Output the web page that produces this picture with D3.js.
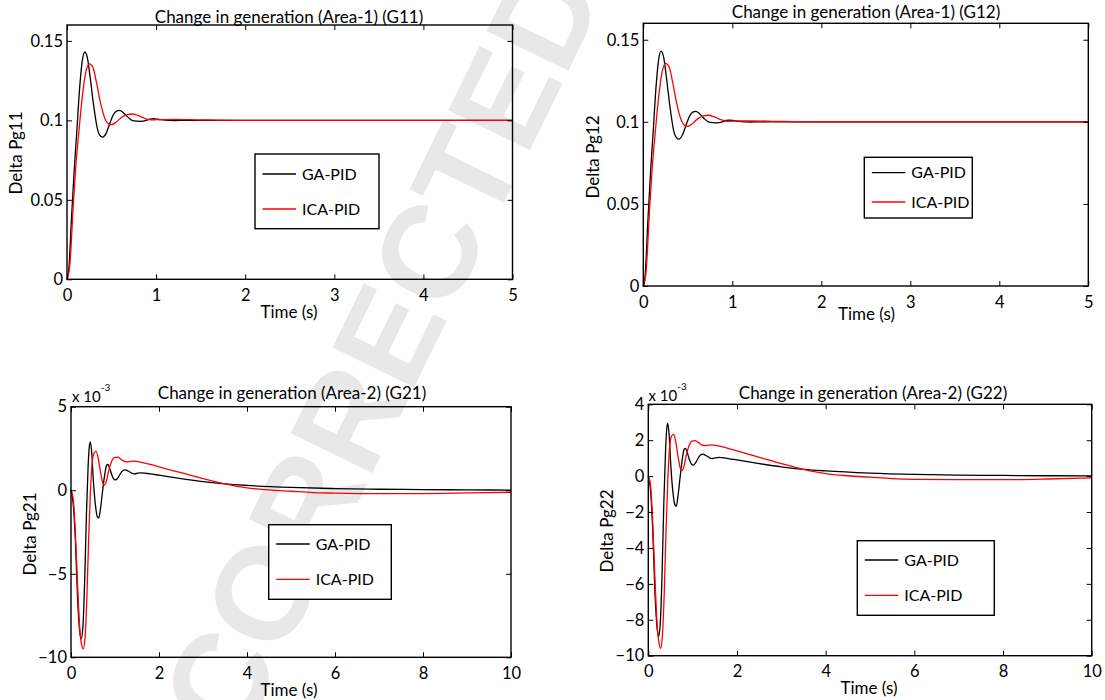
<!DOCTYPE html>
<html>
<head>
<meta charset="utf-8">
<script src="https://cdn.jsdelivr.net/npm/d3@7"></script>
<style>
  html, body { margin: 0; padding: 0; background: #fff; }
  svg { display: block; }
  text { font-family: Lato, "Open Sans", sans-serif; fill: #000; }
</style>
</head>
<body>
<svg id="chart" width="1105" height="700"></svg>
<script>
// ---- Area-1 responses (time in s, Delta Pg in p.u.) ----
const tG11Ga  = [0, 0.02, 0.05, 0.08, 0.11, 0.14, 0.17, 0.2, 0.23, 0.26, 0.3, 0.34, 0.37, 0.4, 0.44, 0.48, 0.52, 0.56, 0.59, 0.63, 0.68, 0.73, 0.78, 0.83, 0.88, 0.93, 0.97, 1.02, 1.1, 1.2, 1.35, 2, 5];
const g11Ga   = [0, 0.006, 0.038, 0.068, 0.093, 0.119, 0.137, 0.143, 0.139, 0.127, 0.109, 0.095, 0.0905, 0.0895, 0.092, 0.098, 0.1035, 0.106, 0.1063, 0.105, 0.1022, 0.1, 0.0995, 0.0994, 0.0998, 0.1008, 0.101, 0.1007, 0.1001, 0.0999, 0.1, 0.1, 0.1];
const tG11Ica = [0, 0.03, 0.07, 0.1, 0.135, 0.17, 0.21, 0.25, 0.29, 0.33, 0.38, 0.43, 0.47, 0.5, 0.55, 0.61, 0.67, 0.73, 0.8, 0.87, 0.95, 1.05, 1.2, 1.5, 2, 5];
const g11Ica  = [0, 0.008, 0.046, 0.072, 0.094, 0.114, 0.13, 0.1356, 0.1335, 0.124, 0.11, 0.1005, 0.0976, 0.0973, 0.0988, 0.1018, 0.1035, 0.104, 0.103, 0.1013, 0.1003, 0.1005, 0.1006, 0.1003, 0.1, 0.1];
const g12Ga   = [0, 0.006, 0.038, 0.068, 0.093, 0.119, 0.137, 0.143, 0.139, 0.127, 0.109, 0.095, 0.0905, 0.0895, 0.092, 0.098, 0.1035, 0.106, 0.1063, 0.105, 0.1022, 0.1, 0.0995, 0.0994, 0.0998, 0.1008, 0.101, 0.1007, 0.1001, 0.0999, 0.1, 0.1, 0.1];
const g12Ica  = [0, 0.008, 0.046, 0.072, 0.094, 0.114, 0.13, 0.1356, 0.1335, 0.124, 0.11, 0.1005, 0.0976, 0.0973, 0.0988, 0.1018, 0.1035, 0.104, 0.103, 0.1013, 0.1003, 0.1005, 0.1006, 0.1003, 0.1, 0.1];

// ---- Area-2 responses (values in units of 1e-3) ----
const tG2Ga  = [0, 0.05, 0.1, 0.15, 0.2, 0.23, 0.27, 0.31, 0.35, 0.39, 0.42, 0.44, 0.47, 0.51, 0.56, 0.6, 0.63, 0.67, 0.72, 0.77, 0.81, 0.84, 0.88, 0.93, 0.98, 1.02, 1.08, 1.15, 1.22, 1.3, 1.38, 1.44, 1.52, 1.6, 1.8, 2, 2.5, 3, 3.5, 4, 5, 6, 7, 8, 9, 10];
const g21Ga  = [0, -0.8, -3.0, -6.5, -8.5, -8.9, -8.2, -5.5, -1.5, 1.5, 2.7, 2.9, 2.3, 0.5, -1.0, -1.6, -1.66, -1.1, 0.0, 1.0, 1.5, 1.54, 1.3, 0.9, 0.65, 0.62, 0.8, 1.1, 1.22, 1.15, 1.02, 0.98, 1.02, 1.04, 0.98, 0.9, 0.7, 0.52, 0.38, 0.29, 0.17, 0.1, 0.06, 0.04, 0.02, 0.01];
const tG2Ica = [0, 0.05, 0.1, 0.15, 0.2, 0.25, 0.28, 0.32, 0.36, 0.4, 0.44, 0.48, 0.52, 0.57, 0.62, 0.67, 0.72, 0.76, 0.8, 0.86, 0.92, 0.98, 1.06, 1.14, 1.22, 1.29, 1.36, 1.44, 1.55, 1.8, 2, 2.5, 3, 3.5, 4, 4.5, 5, 5.5, 6, 7, 8, 9, 10];
const g21Ica = [0, -0.5, -2.6, -5.7, -8.3, -9.35, -9.5, -8.8, -6.5, -3.0, -0.2, 1.6, 2.2, 2.34, 1.9, 1.1, 0.45, 0.3, 0.5, 1.2, 1.7, 1.95, 1.98, 1.85, 1.72, 1.7, 1.73, 1.74, 1.7, 1.55, 1.4, 1.05, 0.7, 0.38, 0.14, 0.02, -0.06, -0.14, -0.17, -0.2, -0.2, -0.16, -0.12];
const g22Ga  = [0, -0.8, -3.0, -6.5, -8.5, -8.94, -8.2, -5.5, -1.5, 1.5, 2.75, 2.94, 2.3, 0.5, -1.0, -1.6, -1.68, -1.1, 0.0, 1.0, 1.5, 1.55, 1.3, 0.9, 0.65, 0.62, 0.8, 1.1, 1.22, 1.15, 1.02, 0.98, 1.02, 1.04, 0.98, 0.9, 0.7, 0.52, 0.38, 0.29, 0.17, 0.1, 0.06, 0.04, 0.02, 0.01];
const g22Ica = [0, -0.5, -2.6, -5.7, -8.3, -9.4, -9.59, -8.8, -6.5, -3.0, -0.2, 1.6, 2.2, 2.34, 1.9, 1.1, 0.45, 0.3, 0.5, 1.2, 1.7, 1.95, 1.98, 1.85, 1.72, 1.7, 1.73, 1.74, 1.7, 1.55, 1.4, 1.05, 0.7, 0.38, 0.14, 0.02, -0.06, -0.14, -0.18, -0.2, -0.2, -0.16, -0.09];

// ---- tick values ----
const xTicksArea1 = [0, 1, 2, 3, 4, 5];
const yTicksArea1 = [0, 0.05, 0.1, 0.15];
const xTicksArea2 = [0, 2, 4, 6, 8, 10];
const yTicksG21   = [-10, -5, 0, 5];
const yTicksG22   = [-10, -8, -6, -4, -2, 0, 2, 4];

const seriesNames  = ["GA-PID", "ICA-PID"];
const seriesColors = ["#000000", "#ff0000"];

// ---- panel layout ----
const panels = [
  { title: "Change in generation (Area-1) (G11)", ylabel: "Delta Pg11",
    box: [67, 25, 512.5, 279.3], xDomain: [0, 5], yDomain: [0, 0.16],
    xTicks: xTicksArea1, yTicks: yTicksArea1, yFmt: d3.format("~g"),
    series: [[tG11Ga, g11Ga], [tG11Ica, g11Ica]],
    titleXY: [289, 22.5], xlabXY: [289, 318], ylabXY: [16, 153],
    legend: [255, 154, 379, 228.7, 174, 209] },
  { title: "Change in generation (Area-1) (G12)", ylabel: "Delta Pg12",
    box: [643.3, 23.3, 1088.3, 286], xDomain: [0, 5], yDomain: [0, 0.16],
    xTicks: xTicksArea1, yTicks: yTicksArea1, yFmt: d3.format("~g"),
    series: [[tG11Ga, g12Ga], [tG11Ica, g12Ica]],
    titleXY: [866, 18], xlabXY: [866.5, 320], ylabXY: [593, 157],
    legend: [864.3, 157.3, 972.3, 218, 172.7, 202] },
  { title: "Change in generation (Area-2) (G21)", ylabel: "Delta Pg21",
    box: [71, 406.7, 511, 657.3], xDomain: [0, 10], yDomain: [-10, 5],
    xTicks: xTicksArea2, yTicks: yTicksG21, yFmt: d3.format("d"),
    series: [[tG2Ga, g21Ga], [tG2Ica, g21Ica]],
    titleXY: [292, 399.3], xlabXY: [289, 696], ylabXY: [30, 534],
    exp: [72, 401.7],
    legend: [268.7, 524.7, 391.3, 599.3, 544, 579.3] },
  { title: "Change in generation (Area-2) (G22)", ylabel: "Delta Pg22",
    box: [648.3, 404.3, 1091.7, 655.7], xDomain: [0, 10], yDomain: [-10, 4],
    xTicks: xTicksArea2, yTicks: yTicksG22, yFmt: d3.format("d"),
    series: [[tG2Ga, g22Ga], [tG2Ica, g22Ica]],
    titleXY: [873, 399.3], xlabXY: [869, 694], ylabXY: [607, 531],
    exp: [648.5, 400.7],
    legend: [857.3, 540.7, 994.3, 615.3, 560, 595.3] }
];

const svg = d3.select("#chart");

// proof watermark, drawn underneath everything; the "E" of CORRECTED is
// centred on a chosen point and the line runs up to the right
const WM_FS = 132, WM_ANCHOR = [387, 335], WM_ANGLE = -64, WM_CHAR = 6;
const wm = svg.append("g");
const wmText = wm.append("text")
  .style("font-family", "'Liberation Sans', Arial, sans-serif")
  .style("font-weight", "bold")
  .style("font-size", WM_FS + "px")
  .style("fill", "#e8e8e8")
  .text("UNCORRECTED PROOF");
const ext = wmText.node().getExtentOfChar(WM_CHAR);
const wcx = ext.x + ext.width / 2, wcy = -0.358 * WM_FS;
wm.attr("transform",
  `translate(${WM_ANCHOR[0]},${WM_ANCHOR[1]}) rotate(${WM_ANGLE}) translate(${-wcx},${-wcy})`);

const TICK_FS = 16.5, LABEL_FS = 17, LEGEND_FS = 16, TITLE_FS = 17;

panels.forEach(p => {
  const [x0, y0, x1, y1] = p.box;
  const x = d3.scaleLinear().domain(p.xDomain).range([x0, x1]);
  const y = d3.scaleLinear().domain(p.yDomain).range([y1, y0]);
  const g = svg.append("g");

  // data lines
  const line = d3.line().x(d => x(d[0])).y(d => y(d[1])).curve(d3.curveMonotoneX);
  p.series.forEach(([ts, vs], i) => {
    g.append("path")
      .datum(ts.map((t, k) => [t, vs[k]]))
      .attr("d", line)
      .attr("fill", "none")
      .attr("stroke", seriesColors[i])
      .attr("stroke-width", 1.3)
      .attr("stroke-linejoin", "round");
  });

  // axes with inward ticks on all four sides
  const styleAxis = sel => {
    sel.select(".domain").remove();
    sel.selectAll(".tick line").attr("stroke", "#000").attr("stroke-width", 1);
    sel.selectAll(".tick text").style("font-size", TICK_FS + "px")
      .style("font-family", "Lato, sans-serif").attr("fill", "#000");
  };
  g.append("g").attr("transform", `translate(0,${y1})`)
    .call(d3.axisBottom(x).tickValues(p.xTicks).tickSize(-5).tickPadding(10).tickFormat(d3.format("d")))
    .call(styleAxis);
  g.append("g").attr("transform", `translate(0,${y0})`)
    .call(d3.axisTop(x).tickValues(p.xTicks).tickSize(-5).tickFormat(""))
    .call(styleAxis);
  g.append("g").attr("transform", `translate(${x0},0)`)
    .call(d3.axisLeft(y).tickValues(p.yTicks).tickSize(-5).tickPadding(4).tickFormat(p.yFmt))
    .call(styleAxis);
  g.append("g").attr("transform", `translate(${x1},0)`)
    .call(d3.axisRight(y).tickValues(p.yTicks).tickSize(-5).tickFormat(""))
    .call(styleAxis);

  // plot frame
  g.append("rect")
    .attr("x", x0).attr("y", y0).attr("width", x1 - x0).attr("height", y1 - y0)
    .attr("fill", "none").attr("stroke", "#000").attr("stroke-width", 1.4);

  // title and axis labels
  g.append("text").attr("x", p.titleXY[0]).attr("y", p.titleXY[1])
    .attr("text-anchor", "middle").style("font-size", TITLE_FS + "px").text(p.title);
  g.append("text").attr("x", p.xlabXY[0]).attr("y", p.xlabXY[1])
    .attr("text-anchor", "middle").style("font-size", LABEL_FS + "px").text("Time (s)");
  g.append("text")
    .attr("transform", `translate(${p.ylabXY[0]},${p.ylabXY[1]}) rotate(-90)`)
    .attr("text-anchor", "middle").attr("dy", "0.35em")
    .style("font-size", LABEL_FS + "px").text(p.ylabel);

  // exponent marker
  if (p.exp) {
    const t = g.append("text").attr("x", p.exp[0]).attr("y", p.exp[1])
      .style("font-size", "15px");
    t.append("tspan").text("x 10");
    t.append("tspan").attr("dy", -11).style("font-size", "10px").text("-3");
  }

  // legend
  const [lx0, ly0, lx1, ly1, r1, r2] = p.legend;
  const lg = g.append("g");
  lg.append("rect").attr("x", lx0).attr("y", ly0).attr("width", lx1 - lx0).attr("height", ly1 - ly0)
    .attr("fill", "#fff").attr("stroke", "#000").attr("stroke-width", 1.4);
  [r1, r2].forEach((ry, i) => {
    lg.append("line").attr("x1", lx0 + 7.5).attr("x2", lx0 + 41).attr("y1", ry).attr("y2", ry)
      .attr("stroke", seriesColors[i]).attr("stroke-width", 1.3);
    lg.append("text").attr("x", lx0 + 47).attr("y", ry).attr("dy", "0.36em")
      .style("font-size", LEGEND_FS + "px").text(seriesNames[i]);
  });
});
</script>
</body>
</html>
